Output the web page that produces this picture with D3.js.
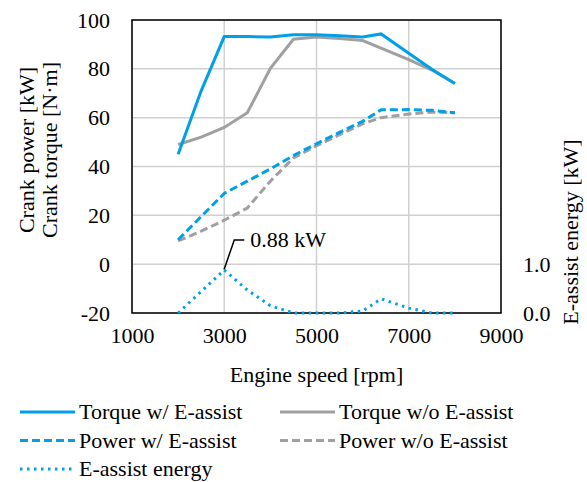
<!DOCTYPE html>
<head>
  <meta charset="utf-8">
  <style>
    @font-face { font-family: "ChartSerif"; src: local("Liberation Serif"), local("LiberationSerif-Regular"), local("Times New Roman"); }
    svg text { font-family: "Liberation Serif", "ChartSerif", "Times New Roman", Tinos !important; }
  </style>
  <script src="https://d3js.org/d3.v7.min.js"></script>
</head>
<body style="margin:0">
  <script>
  // engine speeds [rpm]
  var rpm = [2000, 2500, 3000, 3500, 4000, 4500, 5000, 5500, 6000, 6400, 7000, 7500, 8000];

  var torqueWith    = [45, 71, 93.2, 93.2, 93, 94, 94, 93.6, 93, 94.3, 86.4, 79.8, 74];
  var torqueWithout = [49, 52, 56, 62, 80.2, 92.1, 93, 92.4, 91.6, 88.5, 83.8, 79.5, 74];
  var powerWith     = [10, 19.5, 29, 34, 39, 44.5, 49.3, 54, 58.5, 63.2, 63.3, 63, 62];
  var powerWithout  = [9.5, 13.5, 18, 23, 34, 43.5, 48.5, 53, 57.5, 60, 61.5, 62.3, 62];
  var energy        = [0, 0.44, 0.88, 0.47, 0.15, 0, 0, 0, 0.04, 0.29, 0.1, 0, 0];

  var xTicks = [1000, 3000, 5000, 7000, 9000];
  var yTicks = [-20, 0, 20, 40, 60, 80, 100];
  var y2Ticks = [0, 1];

  var W = 587, H = 482;
  var margin = {top: 20, left: 132, right: 86, bottom: 169};
  var width = W - margin.left - margin.right,
      height = H - margin.top - margin.bottom;

  var blue = "#00a0e9", gray = "#a0a0a0";
  var FONT = "Liberation Serif", FS = "22px";

  var x = d3.scaleLinear().domain([1000, 9000]).range([0, width]);
  var y = d3.scaleLinear().domain([-20, 100]).range([height, 0]);
  var y2 = d3.scaleLinear().domain([0, 6]).range([height, 0]);

  var svg = d3.select("body").append("svg")
      .attr("width", W)
      .attr("height", H)
      .attr("font-family", FONT);

  var g = svg.append("g")
      .attr("transform", "translate(" + margin.left + "," + margin.top + ")");

  // grid
  g.selectAll(".hgrid").data(yTicks).enter().append("line")
      .attr("x1", 0).attr("x2", width)
      .attr("y1", function(d) { return y(d); })
      .attr("y2", function(d) { return y(d); })
      .attr("stroke", "#d0d0d0").attr("stroke-width", 1.5);
  g.selectAll(".vgrid").data(xTicks).enter().append("line")
      .attr("y1", 0).attr("y2", height)
      .attr("x1", function(d) { return x(d); })
      .attr("x2", function(d) { return x(d); })
      .attr("stroke", "#d0d0d0").attr("stroke-width", 1.5);

  // axes
  var xAxis = g.append("g")
      .attr("transform", "translate(0," + height + ")")
      .call(d3.axisBottom(x).tickValues(xTicks).tickFormat(d3.format("d")).tickSize(0).tickPadding(14));
  var yAxis = g.append("g")
      .call(d3.axisLeft(y).tickValues(yTicks).tickFormat(function(d) { return String(d); }).tickSize(0).tickPadding(22));
  var y2Axis = g.append("g")
      .attr("transform", "translate(" + width + ",0)")
      .call(d3.axisRight(y2).tickValues(y2Ticks).tickFormat(d3.format(".1f")).tickSize(0).tickPadding(22));

  [xAxis, yAxis, y2Axis].forEach(function(a) {
    a.attr("font-family", FONT).attr("font-size", FS);
    a.select(".domain").remove();
    a.selectAll(".tick text").call(label);
  });

  // plot box
  g.append("rect")
      .attr("width", width).attr("height", height)
      .attr("fill", "none").attr("stroke", "#000").attr("stroke-width", 1.5);

  function series(vals, scale) {
    return d3.line()
      .x(function(d, i) { return x(rpm[i]); })
      .y(function(d) { return scale(d); })(vals);
  }

  var lines = [
    {vals: torqueWithout, color: gray, dash: null, scale: y, label: "Torque w/o E-assist"},
    {vals: powerWithout, color: gray, dash: "8,4", scale: y, label: "Power w/o E-assist"},
    {vals: torqueWith, color: blue, dash: null, scale: y, label: "Torque w/ E-assist"},
    {vals: powerWith, color: blue, dash: "8,4", scale: y, label: "Power w/ E-assist"},
    {vals: energy, color: blue, dash: "2.5,4.5", scale: y2, label: "E-assist energy"}
  ];

  lines.forEach(function(s) {
    g.append("path")
      .attr("d", series(s.vals, s.scale))
      .attr("fill", "none")
      .attr("stroke", s.color)
      .attr("stroke-width", 3)
      .attr("stroke-dasharray", s.dash);
  });

  function label(sel) {
    sel.attr("font-family", FONT).attr("font-size", FS)
       .style("font-size", FS)
       .attr("fill", "#000");
  }

  // annotation
  var px = x(3000), py = y2(0.88);
  g.append("path")
      .attr("d", "M" + px + "," + (py - 1) + "L" + (px + 10) + "," + (py - 30) + "L" + (px + 20) + "," + (py - 30))
      .attr("fill", "none").attr("stroke", "#000").attr("stroke-width", 1.5);
  g.append("text")
      .attr("x", px + 26).attr("y", py - 23)
      .call(label)
      .text("0.88 kW");

  // axis titles
  svg.append("text")
      .attr("x", margin.left + width / 2).attr("y", 382)
      .attr("text-anchor", "middle")
      .call(label)
      .text("Engine speed [rpm]");

  svg.append("text")
      .attr("transform", "translate(34,150) rotate(-90)")
      .attr("text-anchor", "middle")
      .call(label)
      .text("Crank power [kW]");
  svg.append("text")
      .attr("transform", "translate(57,150) rotate(-90)")
      .attr("text-anchor", "middle")
      .call(label)
      .text("Crank torque [N\u00b7m]");
  svg.append("text")
      .attr("transform", "translate(578,232) rotate(-90)")
      .attr("text-anchor", "middle")
      .call(label)
      .text("E-assist energy [kW]");

  // legend
  var legendOrder = [lines[2], lines[0], lines[3], lines[1], lines[4]];
  var leg = svg.append("g");
  legendOrder.forEach(function(s, i) {
    var col = i % 2, row = Math.floor(i / 2);
    var lx = col === 0 ? 20 : 280, ly = 412 + row * 28.5;
    leg.append("line")
      .attr("x1", lx).attr("x2", lx + 55)
      .attr("y1", ly).attr("y2", ly)
      .attr("stroke", s.color).attr("stroke-width", 3)
      .attr("stroke-dasharray", s.dash);
    leg.append("text")
      .attr("x", lx + 59).attr("y", ly + 7)
      .call(label)
      .text(s.label);
  });
  </script>
</body>
</html>
